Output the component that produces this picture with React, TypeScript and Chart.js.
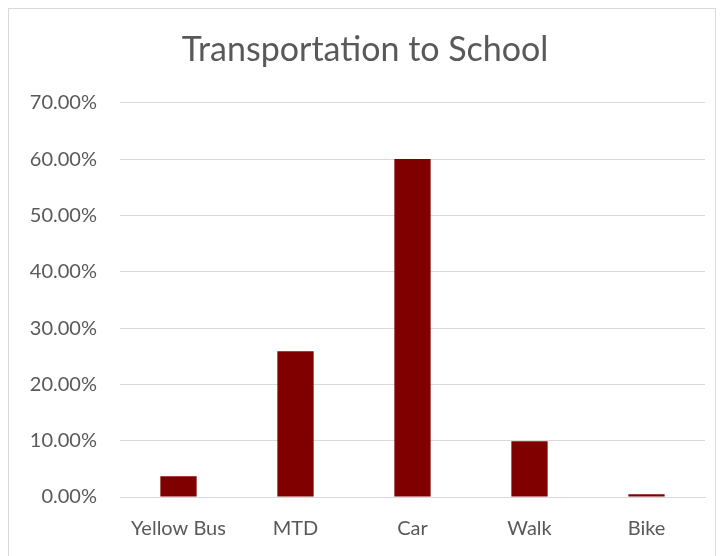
import React, { useEffect, useRef } from "react";
import { Chart, registerables } from "chart.js";

Chart.register(...registerables);

const categories = ["Yellow Bus", "MTD", "Car", "Walk", "Bike"];
const shares = [0.037, 0.259, 0.6, 0.099, 0.005];
const chartTitle = "Transportation to School";
const yMin = 0;
const yMax = 0.7;
const yStep = 0.1;

const FONT = "Lato, 'Open Sans', sans-serif";

export default function App() {
  const ref = useRef<HTMLCanvasElement | null>(null);
  useEffect(() => {
    if (!ref.current) return;
    const chart = new Chart(ref.current, {
      type: "bar",
      data: {
        labels: categories,
        datasets: [
          {
            data: shares,
            backgroundColor: "#800000",
            borderWidth: 0,
            barPercentage: 0.31,
            categoryPercentage: 1,
          },
        ],
      },
      options: {
        animation: false,
        responsive: false,
        maintainAspectRatio: false,
        layout: { padding: { left: 16, right: 10, top: 21, bottom: 0 } },
        plugins: {
          legend: { display: false },
          tooltip: { enabled: false },
          title: {
            display: true,
            text: chartTitle,
            color: "#595959",
            font: { family: FONT, size: 34, weight: "normal" },
            padding: { top: 0, bottom: 32 },
          },
        },
        scales: {
          x: {
            grid: { display: false, drawTicks: false },
            border: { display: true, color: "#d9d9d9", width: 1 },
            ticks: {
              color: "#595959",
              font: { family: FONT, size: 20 },
              padding: 20,
              maxRotation: 0,
              autoSkip: false,
            },
            afterFit: (s: any) => {
              s.height = 66;
            },
          },
          y: {
            min: yMin,
            max: yMax,
            grid: { color: "#d9d9d9", lineWidth: 1, drawTicks: false },
            border: { display: false },
            ticks: {
              stepSize: yStep,
              color: "#595959",
              font: { family: FONT, size: 20 },
              padding: 23,
              callback: (v: any) => (Number(v) * 100).toFixed(2) + "%",
            },
            afterFit: (s: any) => {
              s.width = 95;
            },
          },
        },
      },
    });
    return () => chart.destroy();
  }, []);
  return (
    <div
      style={{
        width: 708,
        height: 556,
        border: "1px solid #d9d9d9",
        boxSizing: "border-box",
        background: "#fff",
      }}
    >
      <canvas ref={ref} width={706} height={554} style={{ display: "block" }} />
    </div>
  );
}
